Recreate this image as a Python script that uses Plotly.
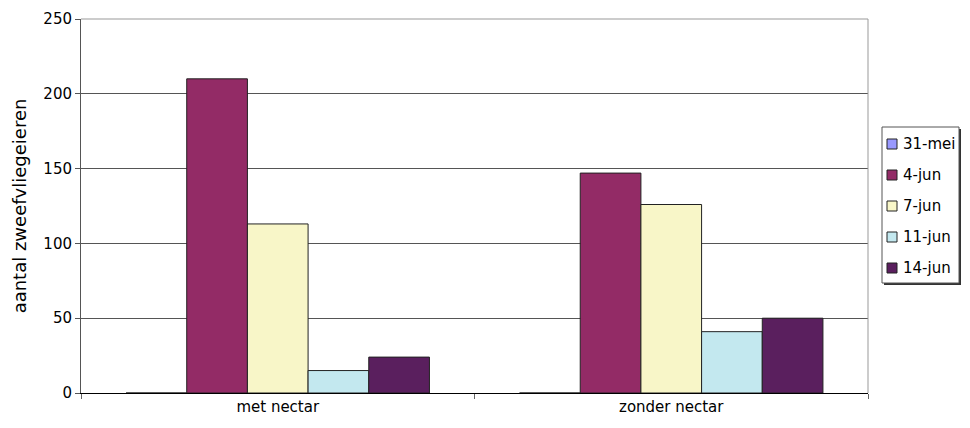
import plotly.graph_objects as go

# ------------DATA------------------------------------------
categories = ['met nectar', 'zonder nectar']
dates = ['31-mei', '4-jun', '7-jun', '11-jun', '14-jun']
eggs_31mei = [0, 0]
eggs_4jun = [210, 147]
eggs_7jun = [113, 126]
eggs_11jun = [15, 41]
eggs_14jun = [24, 50]

series = [eggs_31mei, eggs_4jun, eggs_7jun, eggs_11jun, eggs_14jun]
colors = ['#9999FF', '#932B66', '#F8F6C8', '#C3E8EF', '#5A1F5E']

# ------------FORMATTING------------------------------------------
# page body has an 8px default margin, so the figure is sized/offset for that
W, H = 962, 412
L, R, T, B = 73, 102, 11, 27
PW, PH = W - L - R, H - T - B


def px_x(page_x):
    # page pixel -> paper x
    return (page_x - 8 - L) / PW


def px_y(page_y):
    # page pixel -> paper y
    return (H - B - (page_y - 8)) / PH


fig = go.Figure()
for name, vals, col in zip(dates, series, colors):
    fig.add_trace(go.Bar(x=categories, y=vals, name=name,
                         marker=dict(color=col, line=dict(color='#222222', width=1))))

shapes = [
    dict(type='line', xref='paper', yref='paper', x0=0, x1=1, y0=1, y1=1,
         line=dict(color='#999999', width=1)),
    dict(type='line', xref='paper', yref='paper', x0=1, x1=1, y0=0, y1=1,
         line=dict(color='#999999', width=1)),
    # legend shadow + box
    dict(type='rect', xref='paper', yref='paper',
         x0=px_x(884), x1=px_x(961), y0=px_y(285), y1=px_y(129),
         fillcolor='#333333', line=dict(width=0)),
    dict(type='rect', xref='paper', yref='paper',
         x0=px_x(882), x1=px_x(959), y0=px_y(283), y1=px_y(127),
         fillcolor='white', line=dict(color='#555555', width=1)),
]
annotations = []
for i, (name, col) in enumerate(zip(dates, colors)):
    cy = 144 + 31 * i
    shapes.append(dict(type='rect', xref='paper', yref='paper',
                       x0=px_x(887), x1=px_x(897), y0=px_y(cy + 5), y1=px_y(cy - 5),
                       fillcolor=col, line=dict(color='#222222', width=1)))
    annotations.append(dict(text=name, xref='paper', yref='paper',
                            x=px_x(901), y=px_y(cy), xanchor='left', yanchor='middle',
                            showarrow=False, font=dict(size=15)))

fig.update_layout(
    width=W, height=H,
    margin=dict(l=L, r=R, t=T, b=B, autoexpand=False),
    barmode='group', bargap=0.229, bargroupgap=0,
    plot_bgcolor='white', paper_bgcolor='white',
    font=dict(family='DejaVu Sans, Arial, sans-serif', size=15, color='#000000'),
    showlegend=False,
    shapes=shapes,
    annotations=annotations,
)
fig.update_xaxes(showline=True, linecolor='#000000', linewidth=1,
                 ticks='outside', tickson='boundaries', ticklen=5, tickcolor='#666666',
                 showgrid=False, zeroline=False, automargin=False)
fig.update_yaxes(range=[0, 250], dtick=50, showline=True, linecolor='#555555', linewidth=1,
                 ticks='outside', ticklen=5, tickcolor='#555555',
                 showgrid=True, gridcolor='#555555', gridwidth=1, zeroline=False,
                 automargin=False,
                 title=dict(text='aantal zweefvliegeieren', standoff=12))

fig.write_html('out.html')
